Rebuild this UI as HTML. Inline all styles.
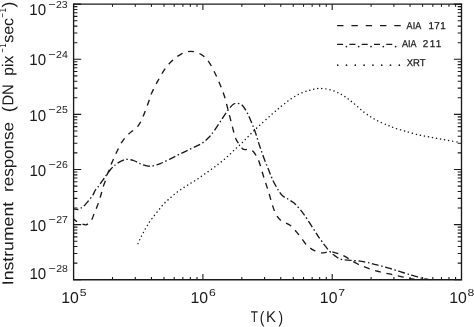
<!DOCTYPE html>
<html><head><meta charset="utf-8"><title>Instrument response</title>
<style>
html,body{margin:0;padding:0;background:#fff;}
svg{display:block;}
text{font-family:"Liberation Sans",sans-serif;fill:#1a1a1a;}
</style></head><body>
<svg width="474" height="327" viewBox="0 0 474 327">
<rect width="474" height="327" fill="#fff"/>
<path d="M73.6,3.6500000000000004V279.75H461.5V3.6500000000000004" fill="none" stroke="#1a1a1a" stroke-width="1.35" stroke-linejoin="miter"/>
<path d="M73.0,4.15H462.1" fill="none" stroke="#1a1a1a" stroke-width="1.1"/>
<path d="M112.52,279.75v-2.7M112.52,4.15v2.7M135.29,279.75v-2.7M135.29,4.15v2.7M151.45,279.75v-2.7M151.45,4.15v2.7M163.98,279.75v-2.7M163.98,4.15v2.7M174.21,279.75v-2.7M174.21,4.15v2.7M182.87,279.75v-2.7M182.87,4.15v2.7M190.37,279.75v-2.7M190.37,4.15v2.7M196.98,279.75v-2.7M196.98,4.15v2.7M202.90,279.75v-5.8M202.90,4.15v5.8M241.82,279.75v-2.7M241.82,4.15v2.7M264.59,279.75v-2.7M264.59,4.15v2.7M280.75,279.75v-2.7M280.75,4.15v2.7M293.28,279.75v-2.7M293.28,4.15v2.7M303.51,279.75v-2.7M303.51,4.15v2.7M312.17,279.75v-2.7M312.17,4.15v2.7M319.67,279.75v-2.7M319.67,4.15v2.7M326.28,279.75v-2.7M326.28,4.15v2.7M332.20,279.75v-5.8M332.20,4.15v5.8M371.12,279.75v-2.7M371.12,4.15v2.7M393.89,279.75v-2.7M393.89,4.15v2.7M410.05,279.75v-2.7M410.05,4.15v2.7M422.58,279.75v-2.7M422.58,4.15v2.7M432.81,279.75v-2.7M432.81,4.15v2.7M441.47,279.75v-2.7M441.47,4.15v2.7M448.97,279.75v-2.7M448.97,4.15v2.7M455.58,279.75v-2.7M455.58,4.15v2.7M73.6,279.75h7.6M461.5,279.75h-7.6M73.6,263.16h3.8M461.5,263.16h-3.8M73.6,253.45h3.8M461.5,253.45h-3.8M73.6,246.56h3.8M461.5,246.56h-3.8M73.6,241.22h3.8M461.5,241.22h-3.8M73.6,236.86h3.8M461.5,236.86h-3.8M73.6,233.17h3.8M461.5,233.17h-3.8M73.6,229.97h3.8M461.5,229.97h-3.8M73.6,227.15h3.8M461.5,227.15h-3.8M73.6,224.63h7.6M461.5,224.63h-7.6M73.6,208.04h3.8M461.5,208.04h-3.8M73.6,198.33h3.8M461.5,198.33h-3.8M73.6,191.44h3.8M461.5,191.44h-3.8M73.6,186.10h3.8M461.5,186.10h-3.8M73.6,181.74h3.8M461.5,181.74h-3.8M73.6,178.05h3.8M461.5,178.05h-3.8M73.6,174.85h3.8M461.5,174.85h-3.8M73.6,172.03h3.8M461.5,172.03h-3.8M73.6,169.51h7.6M461.5,169.51h-7.6M73.6,152.92h3.8M461.5,152.92h-3.8M73.6,143.21h3.8M461.5,143.21h-3.8M73.6,136.32h3.8M461.5,136.32h-3.8M73.6,130.98h3.8M461.5,130.98h-3.8M73.6,126.62h3.8M461.5,126.62h-3.8M73.6,122.93h3.8M461.5,122.93h-3.8M73.6,119.73h3.8M461.5,119.73h-3.8M73.6,116.91h3.8M461.5,116.91h-3.8M73.6,114.39h7.6M461.5,114.39h-7.6M73.6,97.80h3.8M461.5,97.80h-3.8M73.6,88.09h3.8M461.5,88.09h-3.8M73.6,81.20h3.8M461.5,81.20h-3.8M73.6,75.86h3.8M461.5,75.86h-3.8M73.6,71.50h3.8M461.5,71.50h-3.8M73.6,67.81h3.8M461.5,67.81h-3.8M73.6,64.61h3.8M461.5,64.61h-3.8M73.6,61.79h3.8M461.5,61.79h-3.8M73.6,59.27h7.6M461.5,59.27h-7.6M73.6,42.68h3.8M461.5,42.68h-3.8M73.6,32.97h3.8M461.5,32.97h-3.8M73.6,26.08h3.8M461.5,26.08h-3.8M73.6,20.74h3.8M461.5,20.74h-3.8M73.6,16.38h3.8M461.5,16.38h-3.8M73.6,12.69h3.8M461.5,12.69h-3.8M73.6,9.49h3.8M461.5,9.49h-3.8M73.6,6.67h3.8M461.5,6.67h-3.8M73.6,4.15h7.6M461.5,4.15h-7.6" fill="none" stroke="#1a1a1a" stroke-width="1.1"/>
<clipPath id="c"><rect x="73.6" y="4.15" width="387.9" height="276.1"/></clipPath>
<g fill="none" stroke="#1a1a1a" stroke-width="1.35" clip-path="url(#c)">
<path d="M73.7,219.1C74.3,219.6 75.9,221.1 77.1,221.8C78.3,222.5 79.8,223.1 81.0,223.5C82.2,223.9 83.2,224.3 84.0,224.5C84.8,224.7 85.3,225.0 86.0,224.8C86.7,224.7 87.5,224.2 88.3,223.6C89.1,223.0 89.9,221.8 90.6,221.0C91.3,220.2 91.7,219.8 92.3,218.5C92.9,217.2 93.5,215.2 94.2,213.4C94.9,211.6 96.0,209.3 96.7,207.5C97.4,205.7 98.0,204.2 98.6,202.5C99.2,200.8 99.8,198.8 100.3,197.0C100.8,195.2 101.3,193.8 101.8,192.0C102.3,190.2 102.8,187.9 103.4,186.1C104.0,184.3 104.7,182.8 105.3,181.0C105.9,179.2 106.2,177.3 106.8,175.5C107.4,173.7 108.4,172.1 109.1,170.3C109.8,168.5 110.2,166.6 110.9,164.9C111.6,163.2 112.3,161.8 113.1,159.9C113.9,158.1 115.0,155.5 115.8,153.8C116.6,152.2 116.7,152.0 117.7,150.0C118.7,148.0 120.2,144.4 122.0,141.8C123.8,139.2 125.7,136.9 128.4,134.2C131.2,131.4 135.8,129.0 138.5,125.3C141.2,121.6 142.9,116.8 144.8,112.2C146.7,107.7 148.8,101.2 149.9,98.0C151.0,94.8 150.2,96.2 151.6,93.3C152.9,90.4 155.7,84.8 158.0,80.6C160.3,76.4 163.1,71.5 165.6,68.0C168.1,64.5 170.7,62.2 173.2,59.9C175.7,57.6 177.9,55.7 180.8,54.3C183.7,52.9 187.0,51.3 190.4,51.3C193.8,51.3 198.0,52.6 201.0,54.3C204.0,56.0 206.3,58.5 208.6,61.6C210.9,64.7 213.0,69.2 214.9,73.0C216.8,76.8 218.4,80.6 220.0,84.4C221.6,88.2 222.9,91.5 224.3,95.8C225.7,100.1 226.9,105.5 228.2,110.4C229.5,115.3 230.9,121.1 232.0,125.3C233.1,129.4 233.9,132.8 234.7,135.3C235.5,137.8 235.7,138.7 236.6,140.4C237.5,142.1 239.0,143.9 240.0,145.3C241.0,146.7 241.9,148.3 242.8,149.0C243.7,149.7 244.5,149.6 245.5,149.6C246.5,149.6 247.6,148.8 248.9,149.2C250.2,149.6 252.2,150.5 253.5,151.8C254.8,153.1 255.8,155.2 256.7,156.9C257.6,158.6 258.2,159.3 259.2,162.0C260.2,164.7 261.4,169.3 262.5,173.0C263.6,176.7 264.8,180.3 266.0,184.0C267.2,187.7 268.4,191.3 269.5,195.0C270.6,198.7 271.6,202.9 272.8,206.3C274.0,209.7 275.1,213.0 276.6,215.4C278.1,217.8 279.3,219.3 281.6,221.0C283.9,222.7 287.7,223.3 290.5,225.6C293.3,227.8 295.9,231.3 298.6,234.5C301.3,237.7 304.4,242.7 306.5,245.0C308.6,247.3 309.6,247.6 311.0,248.6C312.4,249.6 313.6,250.1 315.1,250.8C316.6,251.5 318.6,252.2 319.9,252.6C321.2,252.9 322.0,252.9 323.0,252.9C324.0,252.9 325.0,252.5 326.0,252.3C327.0,252.1 327.8,251.7 329.0,251.7C330.2,251.7 331.6,251.8 333.0,252.1C334.4,252.4 336.0,253.0 337.2,253.3C338.4,253.6 339.0,253.6 340.0,254.0C341.0,254.4 342.0,254.9 343.2,255.5C344.4,256.1 345.7,256.8 347.0,257.6C348.3,258.4 349.0,259.1 350.8,260.2C352.6,261.3 355.7,263.0 357.7,264.0C359.7,265.0 361.0,265.6 362.8,266.3C364.6,267.0 366.6,267.7 368.5,268.4C370.4,269.1 372.4,269.8 374.2,270.3C376.0,270.9 377.4,271.2 379.2,271.7C381.0,272.2 383.0,272.7 384.9,273.1C386.8,273.5 388.8,273.8 390.7,274.2C392.6,274.6 394.5,275.2 396.4,275.6C398.3,276.0 400.2,276.4 402.1,276.8C404.0,277.2 406.2,277.7 407.8,278.1C409.4,278.5 410.5,278.7 412.0,279.0C413.5,279.3 416.2,279.8 417.0,279.9" stroke-dasharray="6 5.7" stroke-dashoffset="1.7"/>
<path d="M73.7,209.0C74.5,209.1 77.1,209.7 78.4,209.5C79.7,209.3 80.5,208.4 81.5,207.7C82.5,207.0 83.5,206.3 84.7,205.2C85.9,204.0 87.1,202.5 88.5,200.8C89.9,199.1 91.8,196.7 92.9,195.0C94.0,193.3 94.3,191.8 95.1,190.5C95.9,189.2 96.8,188.4 97.7,187.3C98.6,186.2 99.2,185.4 100.2,183.9C101.2,182.4 102.8,180.2 104.0,178.5C105.2,176.8 106.0,175.6 107.2,174.0C108.4,172.4 109.8,170.3 110.9,169.0C112.0,167.7 113.1,167.1 113.9,166.3C114.8,165.5 114.7,165.1 116.0,164.2C117.3,163.3 120.2,161.6 121.7,160.8C123.2,160.0 124.0,159.8 124.9,159.6C125.9,159.3 126.0,159.2 127.4,159.3C128.8,159.4 131.6,159.9 133.1,160.3C134.6,160.7 135.2,161.2 136.3,161.7C137.4,162.2 138.0,162.7 139.4,163.3C140.8,163.9 143.1,164.9 145.0,165.4C146.9,165.9 148.5,166.5 151.1,166.2C153.7,165.9 157.1,164.8 160.3,163.6C163.5,162.4 167.0,160.5 170.4,158.8C173.8,157.2 177.1,155.3 180.5,153.7C183.9,152.0 187.2,150.5 190.6,148.9C194.0,147.3 197.8,145.8 200.8,144.0C203.8,142.2 206.2,140.0 208.4,137.8C210.7,135.6 212.1,133.7 214.3,130.6C216.6,127.5 219.6,122.7 221.9,119.2C224.2,115.8 226.3,112.4 228.2,109.9C230.1,107.4 231.8,105.4 233.3,104.3C234.8,103.2 235.6,103.1 237.1,103.3C238.6,103.5 240.5,103.7 242.2,105.3C243.9,106.9 245.5,109.7 247.2,112.9C248.9,116.1 250.9,121.0 252.3,124.3C253.7,127.6 254.3,129.4 255.5,132.8C256.7,136.2 257.9,140.8 259.3,144.9C260.7,149.0 262.1,153.2 263.7,157.5C265.3,161.8 267.3,166.6 268.9,170.5C270.5,174.4 271.8,178.1 273.2,181.0C274.6,183.9 276.0,186.1 277.0,187.9C278.0,189.7 278.4,190.5 279.2,191.7C280.0,192.9 280.8,194.0 281.8,195.0C282.8,196.0 284.0,196.9 285.1,197.6C286.2,198.3 286.9,198.4 288.2,199.2C289.5,200.0 291.7,201.3 293.0,202.2C294.3,203.1 294.3,203.1 295.8,204.7C297.3,206.3 299.8,208.9 301.9,211.6C304.0,214.3 306.0,217.4 308.2,220.7C310.4,224.0 313.3,228.6 315.0,231.2C316.7,233.8 317.2,234.8 318.2,236.3C319.2,237.8 319.9,238.7 320.8,240.0C321.8,241.3 323.0,243.1 323.9,244.3C324.8,245.5 325.5,246.3 326.2,247.2C326.9,248.1 327.2,248.5 328.1,249.6C329.0,250.7 330.7,252.5 331.8,253.5C332.9,254.5 333.7,254.9 334.7,255.6C335.7,256.3 336.7,257.1 337.6,257.7C338.5,258.2 339.1,258.6 340.0,258.9C340.9,259.2 342.0,259.5 343.2,259.7C344.4,259.9 345.4,260.0 347.0,260.1C348.6,260.2 350.5,260.3 352.7,260.5C354.9,260.7 358.5,261.0 360.3,261.2C362.1,261.4 361.8,261.3 363.4,261.6C365.0,261.9 368.1,262.6 369.7,263.0C371.3,263.4 371.8,263.6 372.9,263.9C374.0,264.2 374.5,264.3 376.1,264.7C377.7,265.1 380.8,265.9 382.4,266.3C384.0,266.7 384.5,266.9 385.6,267.2C386.7,267.5 387.3,267.7 388.8,268.1C390.3,268.6 393.0,269.4 394.5,269.9C396.0,270.4 396.6,270.6 397.7,270.9C398.8,271.2 399.3,271.3 400.8,271.8C402.3,272.3 405.0,273.2 406.5,273.7C408.0,274.2 408.8,274.4 409.7,274.7C410.6,275.0 410.7,275.0 412.2,275.4C413.7,275.8 416.9,276.8 418.5,277.2C420.1,277.6 420.8,277.9 421.7,278.1C422.6,278.3 422.7,278.3 424.2,278.6C425.7,278.9 429.4,279.7 430.5,279.9" stroke-dasharray="7 2.6 1.5 2.6" stroke-dashoffset="2.3"/>
<path d="M138.0,243.6C138.4,242.7 139.6,239.8 140.5,238.0C141.4,236.2 142.2,234.7 143.3,232.7C144.4,230.7 145.7,228.2 147.0,226.0C148.3,223.8 149.5,221.8 151.3,219.4C153.1,217.0 155.5,214.0 157.6,211.4C159.7,208.8 161.6,206.1 163.8,203.8C166.0,201.5 168.4,199.6 170.6,197.6C172.8,195.6 174.9,193.8 177.1,192.1C179.3,190.4 181.7,189.0 183.9,187.5C186.2,186.0 188.4,184.7 190.6,183.3C192.8,181.9 195.0,180.8 197.2,179.3C199.4,177.9 201.6,176.2 203.8,174.6C206.0,173.0 208.2,171.6 210.4,170.0C212.6,168.4 214.7,166.9 216.8,165.3C218.9,163.7 221.1,162.0 223.2,160.3C225.3,158.6 227.2,156.8 229.2,154.9C231.2,153.0 233.4,150.9 235.3,149.1C237.2,147.3 239.0,145.8 240.9,144.0C242.8,142.2 244.7,140.1 246.6,138.2C248.5,136.2 250.3,134.3 252.3,132.3C254.3,130.3 255.5,129.2 258.6,126.3C261.7,123.4 267.3,118.4 271.0,115.1C274.7,111.8 277.8,109.1 281.0,106.5C284.2,103.9 287.0,101.6 290.2,99.4C293.4,97.2 297.0,95.0 300.4,93.4C303.8,91.9 307.3,90.9 310.5,90.1C313.7,89.3 316.1,88.4 319.5,88.4C322.9,88.4 327.2,88.9 330.8,89.9C334.4,90.9 337.9,92.7 340.9,94.2C343.8,95.8 346.0,97.4 348.5,99.2C351.0,101.0 353.4,103.1 356.0,105.3C358.6,107.5 361.4,110.2 364.0,112.2C366.6,114.2 368.8,115.7 371.3,117.2C373.8,118.8 376.1,120.1 379.0,121.5C381.9,122.9 386.4,124.7 389.0,125.8C391.6,126.9 391.9,127.1 394.5,128.0C397.1,128.9 400.8,129.9 404.6,131.0C408.4,132.1 413.1,133.6 417.3,134.6C421.5,135.6 425.7,136.3 429.9,137.1C434.1,137.9 438.4,138.7 442.6,139.4C446.8,140.2 452.5,141.1 455.3,141.6C458.1,142.1 458.8,142.3 459.5,142.4" stroke-dasharray="0.1 4" stroke-linecap="round" stroke-width="1.45"/>
</g>
<path d="M337.1,25.7h6.4M351.4,25.7h6.4M365.7,25.7h6.4M380.0,25.7h6.4M394.3,25.7h6.4M337.1,44.3h6M349.4,44.3h6M361.7,44.3h6M374.0,44.3h6M386.3,44.3h6" fill="none" stroke="#1a1a1a" stroke-width="1.3"/>
<g fill="#1a1a1a"><circle cx="346.4" cy="46.6" r="0.85"/><circle cx="358.7" cy="46.6" r="0.85"/><circle cx="371.0" cy="46.6" r="0.85"/><circle cx="383.3" cy="46.6" r="0.85"/><circle cx="395.6" cy="46.6" r="0.85"/><circle cx="337.7" cy="65.2" r="0.85"/><circle cx="346.5" cy="65.2" r="0.85"/><circle cx="355.3" cy="65.2" r="0.85"/><circle cx="364.1" cy="65.2" r="0.85"/><circle cx="372.9" cy="65.2" r="0.85"/><circle cx="381.7" cy="65.2" r="0.85"/><circle cx="390.5" cy="65.2" r="0.85"/><circle cx="399.3" cy="65.2" r="0.85"/></g>
<g transform="matrix(1,0,0.0006,1,0,0)">
<text x="29.3" y="15.0" font-size="15.7" textLength="16.8" lengthAdjust="spacingAndGlyphs">10</text><text x="48.3" y="7.5" font-size="10.1" textLength="7.4" lengthAdjust="spacingAndGlyphs">−</text><text x="56.0" y="7.5" font-size="10.1" textLength="11.7" lengthAdjust="spacingAndGlyphs">23</text>
<text x="29.3" y="65.5" font-size="15.7" textLength="16.8" lengthAdjust="spacingAndGlyphs">10</text><text x="48.3" y="58.0" font-size="10.1" textLength="7.4" lengthAdjust="spacingAndGlyphs">−</text><text x="56.0" y="58.0" font-size="10.1" textLength="11.7" lengthAdjust="spacingAndGlyphs">24</text>
<text x="29.3" y="120.6" font-size="15.7" textLength="16.8" lengthAdjust="spacingAndGlyphs">10</text><text x="48.3" y="113.1" font-size="10.1" textLength="7.4" lengthAdjust="spacingAndGlyphs">−</text><text x="56.0" y="113.1" font-size="10.1" textLength="11.7" lengthAdjust="spacingAndGlyphs">25</text>
<text x="29.3" y="175.7" font-size="15.7" textLength="16.8" lengthAdjust="spacingAndGlyphs">10</text><text x="48.3" y="168.2" font-size="10.1" textLength="7.4" lengthAdjust="spacingAndGlyphs">−</text><text x="56.0" y="168.2" font-size="10.1" textLength="11.7" lengthAdjust="spacingAndGlyphs">26</text>
<text x="29.3" y="230.8" font-size="15.7" textLength="16.8" lengthAdjust="spacingAndGlyphs">10</text><text x="48.3" y="223.3" font-size="10.1" textLength="7.4" lengthAdjust="spacingAndGlyphs">−</text><text x="56.0" y="223.3" font-size="10.1" textLength="11.7" lengthAdjust="spacingAndGlyphs">27</text>
<text x="29.3" y="279.3" font-size="15.7" textLength="16.8" lengthAdjust="spacingAndGlyphs">10</text><text x="48.3" y="271.8" font-size="10.1" textLength="7.4" lengthAdjust="spacingAndGlyphs">−</text><text x="56.0" y="271.8" font-size="10.1" textLength="11.7" lengthAdjust="spacingAndGlyphs">28</text>
<text x="61.1" y="302.9" font-size="15.7" textLength="17.6" lengthAdjust="spacingAndGlyphs">10</text><text x="79.5" y="296.1" font-size="10.1" textLength="6.8" lengthAdjust="spacingAndGlyphs">5</text>
<text x="190.4" y="302.9" font-size="15.7" textLength="17.6" lengthAdjust="spacingAndGlyphs">10</text><text x="208.8" y="296.1" font-size="10.1" textLength="6.8" lengthAdjust="spacingAndGlyphs">6</text>
<text x="319.7" y="302.9" font-size="15.7" textLength="17.6" lengthAdjust="spacingAndGlyphs">10</text><text x="338.1" y="296.1" font-size="10.1" textLength="6.8" lengthAdjust="spacingAndGlyphs">7</text>
<text x="449.0" y="302.9" font-size="15.7" textLength="17.6" lengthAdjust="spacingAndGlyphs">10</text><text x="467.4" y="296.1" font-size="10.1" textLength="6.8" lengthAdjust="spacingAndGlyphs">8</text>

</g>
<g>
<text transform="translate(13.3,285.2) rotate(-90.03)" font-size="15.7" textLength="83.3" lengthAdjust="spacingAndGlyphs">Instrument</text>
<text transform="translate(13.3,192.0) rotate(-90.03)" font-size="15.7" textLength="70.0" lengthAdjust="spacingAndGlyphs">response</text>
<text transform="translate(13.9,112.2) rotate(-90.03)" font-size="16.8" textLength="6.0" lengthAdjust="spacingAndGlyphs">(</text>
<text transform="translate(13.3,105.6) rotate(-90.03)" font-size="15.7" textLength="21.3" lengthAdjust="spacingAndGlyphs">DN</text>
<text transform="translate(13.3,75.7) rotate(-90.03)" font-size="15.7" textLength="20.0" lengthAdjust="spacingAndGlyphs">pix</text>
<text transform="translate(5.9,52.5) rotate(-90.03)" font-size="10.1" textLength="4.1" lengthAdjust="spacingAndGlyphs">−</text>
<text transform="translate(5.9,47.6) rotate(-90.03)" font-size="10.1" textLength="4.0" lengthAdjust="spacingAndGlyphs">1</text>
<text transform="translate(13.3,42.8) rotate(-90.03)" font-size="15.7" textLength="24.9" lengthAdjust="spacingAndGlyphs">sec</text>
<text transform="translate(5.9,17.5) rotate(-90.03)" font-size="10.1" textLength="4.4" lengthAdjust="spacingAndGlyphs">−</text>
<text transform="translate(5.9,12.2) rotate(-90.03)" font-size="10.1" textLength="4.0" lengthAdjust="spacingAndGlyphs">1</text>
<text transform="translate(13.9,7.6) rotate(-90.03)" font-size="16.8" textLength="6.0" lengthAdjust="spacingAndGlyphs">)</text>

</g>
<g font-size="15.7" transform="matrix(1,0,0.0006,1,0,0)">
<text x="250.6" y="321.9" textLength="7.2" lengthAdjust="spacingAndGlyphs">T</text>
<text x="259.6" y="322.6" font-size="16.5" textLength="4.6" lengthAdjust="spacingAndGlyphs">(</text>
<text x="265.8" y="321.9" textLength="10" lengthAdjust="spacingAndGlyphs">K</text>
<text x="278.2" y="322.6" font-size="16.5" textLength="4.6" lengthAdjust="spacingAndGlyphs">)</text>
</g>
<g font-size="9.9" stroke="#1a1a1a" stroke-width="0.25" transform="matrix(1,0,0.0006,1,0,0)">
<text x="406.6" y="28.9" textLength="14.6" lengthAdjust="spacingAndGlyphs">AIA</text>
<text x="428.4" y="28.9" textLength="17.4" lengthAdjust="spacing">171</text>
<text x="402" y="47.4" textLength="14.6" lengthAdjust="spacingAndGlyphs">AIA</text>
<text x="422.8" y="47.4" textLength="18.4" lengthAdjust="spacing">211</text>
<text x="406.6" y="65.7" textLength="18.8" lengthAdjust="spacingAndGlyphs">XRT</text>
</g>
</svg>
</body></html>
